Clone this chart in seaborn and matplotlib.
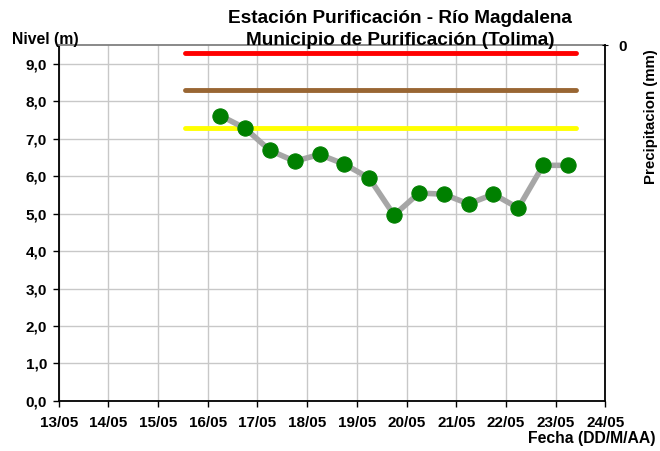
import pandas as pd
import matplotlib
matplotlib.use("Agg")
import matplotlib.pyplot as plt
import matplotlib.dates as mdates
import seaborn as sns

# Lecturas de nivel (m), cada 12 horas
fechas = pd.date_range("2013-05-16 06:00", periods=15, freq="12h")
nivel = [7.62, 7.28, 6.69, 6.40, 6.58, 6.32, 5.95, 4.96, 5.55, 5.52, 5.26, 5.52, 5.15, 6.29, 6.29]

# Umbrales de alerta
umbrales = [9.3, 8.3, 7.3]
colores_umbral = ["#FF0000", "#996633", "#FFFF00"]
umbral_inicio = pd.Timestamp("2013-05-15 13:00")
umbral_fin = pd.Timestamp("2013-05-23 10:00")

ticks_x = pd.date_range("2013-05-13", "2013-05-24", freq="D")
ticks_y = [i for i in range(0, 10)]

sns.set_style("white")
plt.rcParams["font.family"] = ["Liberation Sans", "DejaVu Sans"]
plt.rcParams["font.weight"] = "bold"
plt.rcParams["text.color"] = "black"
plt.rcParams["axes.labelcolor"] = "black"
plt.rcParams["xtick.color"] = "black"
plt.rcParams["ytick.color"] = "black"

fig = plt.figure(figsize=(6.6, 4.51), dpi=100)
ax = fig.add_axes([0.089, 0.111, 0.828, 0.789])

df = pd.DataFrame({"Fecha": fechas, "Nivel": nivel})

for val, col in zip(umbrales, colores_umbral):
    ax.hlines(val, umbral_inicio, umbral_fin, color=col, linewidth=3.5, zorder=3,
              capstyle="round")

sns.lineplot(data=df, x="Fecha", y="Nivel", ax=ax, color="#A6A6A6", linewidth=4,
             marker="o", markersize=11, markerfacecolor="#008000",
             markeredgecolor="#008000", zorder=4)

ax.set_xlim(ticks_x[0], ticks_x[-1])
ax.set_ylim(0, 9.5)
ax.set_xticks(ticks_x)
ax.xaxis.set_major_formatter(mdates.DateFormatter("%d/%m"))
ax.set_yticks(ticks_y)
ax.set_yticklabels([f"{v:.1f}".replace(".", ",") for v in ticks_y])
ax.grid(True, color="#C8C8C8", linewidth=1)
ax.set_axisbelow(True)
ax.tick_params(axis="both", labelsize=11, length=4.5, width=1, direction="out",
               color="black", labelcolor="black", bottom=True, left=True)
ax.tick_params(axis="x", pad=6)
ax.tick_params(axis="y", pad=4)
for lbl in ax.get_xticklabels() + ax.get_yticklabels():
    lbl.set_fontweight("bold")
ax.spines["left"].set_color("black")
ax.spines["bottom"].set_color("black")
ax.spines["left"].set_linewidth(1.3)
ax.spines["bottom"].set_linewidth(1.3)
ax.spines["top"].set_color("#808080")
ax.spines["top"].set_linewidth(1.3)
ax.spines["right"].set_visible(False)
ax.set_xlabel("")
ax.set_ylabel("")

ax2 = ax.twinx()
ax2.set_ylim(100, 0)
ax2.set_yticks([0])
ax2.set_yticklabels(["0"])
ax2.tick_params(axis="y", labelsize=11, length=5, direction="inout", color="black",
                labelcolor="black", pad=7)
for lbl in ax2.get_yticklabels():
    lbl.set_fontweight("bold")
ax2.spines["right"].set_color("black")
ax2.spines["right"].set_linewidth(1.3)
for s in ["left", "top", "bottom"]:
    ax2.spines[s].set_visible(False)
ax2.set_ylabel("Precipitacion (mm)", fontsize=10.8, fontweight="bold")
ax2.yaxis.set_label_coords(1.071, 0.80)

fig.text(0.606, 0.958, "Estación Purificación - Río Magdalena", ha="center", va="center",
         fontsize=13.7, fontweight="bold")
fig.text(0.606, 0.911, "Municipio de Purificación (Tolima)", ha="center", va="center",
         fontsize=13.7, fontweight="bold")
fig.text(0.018, 0.912, "Nivel (m)", ha="left", va="center", fontsize=11.3, fontweight="bold")
fig.text(0.993, 0.028, "Fecha (DD/M/AA)", ha="right", va="center", fontsize=11.3,
         fontweight="bold")

fig.savefig("out.png", dpi=100)
